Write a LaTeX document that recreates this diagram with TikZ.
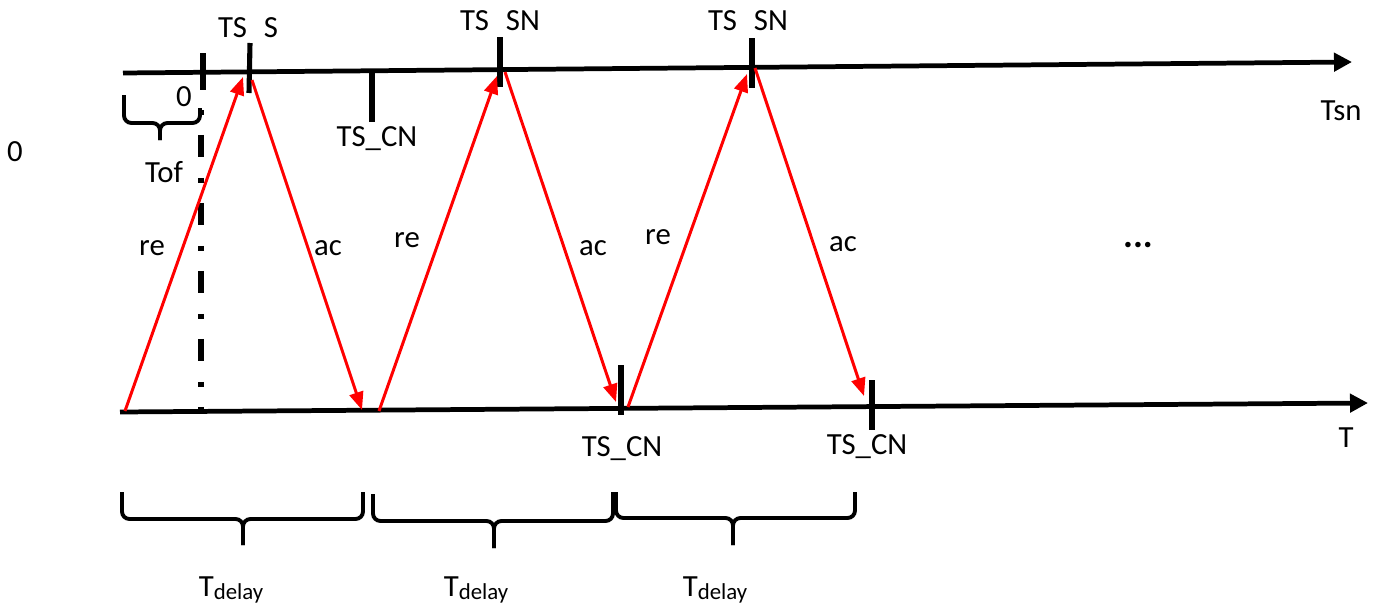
\documentclass[tikz,border=0pt]{standalone}
\usepackage{fontspec}
\setmainfont{Carlito}
\usetikzlibrary{arrows.meta}

\begin{document}
\begin{tikzpicture}[x=0.02cm,y=-0.02cm,
  axis/.style={line width=2.7pt,-{Triangle[length=0.36cm,width=0.36cm]}},
  msg/.style={red,line width=1.7pt,-{Triangle[length=0.36cm,width=0.28cm]}},
  tickmark/.style={line width=2.9pt},
  brc/.style={line width=2.2pt,rounded corners=0.15cm},
  lbl/.style={font=\fontsize{17.5}{21}\selectfont,inner sep=0pt}]
\useasboundingbox (0,0) rectangle (1375,605);
% time axes
\coordinate (top0) at (123,73);
\coordinate (top1) at (1352,62);
\coordinate (bot0) at (120,412);
\coordinate (bot1) at (1368,403);
\draw[axis] (top0)--(top1);
\draw[axis] (bot0)--(bot1);
% ticks
\draw[tickmark] (203,53)--(203,90);
\draw[tickmark] (250,43)--(249,93);
\draw[tickmark] (372,73)--(372,122);
\draw[tickmark] (500,37)--(500,87);
\draw[tickmark] (752,38)--(752,88);
\draw[tickmark] (621,365)--(621,415);
\draw[tickmark] (872,380)--(872,430);
\draw[line width=2.9pt,dash pattern=on 0.1cm off 0.4cm on 0.44cm off 0.42cm] (201,110)--(201,411);
% messages
\coordinate (r1s) at (125,411);
\coordinate (r1e) at (243,77);
\coordinate (a1s) at (252,80);
\coordinate (a1e) at (362,410);
\coordinate (r2s) at (379,411);
\coordinate (r2e) at (497,76);
\coordinate (a2s) at (505,72);
\coordinate (a2e) at (616,402);
\coordinate (r3s) at (628,407);
\coordinate (r3e) at (747,74);
\coordinate (a3s) at (755,68);
\coordinate (a3e) at (864,396);
\draw[msg] (r1s)--(r1e);
\draw[msg] (a1s)--(a1e);
\draw[msg] (r2s)--(r2e);
\draw[msg] (a2s)--(a2e);
\draw[msg] (r3s)--(r3e);
\draw[msg] (a3s)--(a3e);
% braces
\draw[brc] (124,95)--(124,123)--(160,123)--(160,140);
\draw[brc] (200,108)--(200,123)--(160,123)--(160,140);
\draw[brc] (122,492)--(122,519)--(243,519)--(243,545);
\draw[brc] (363,492)--(363,519)--(243,519)--(243,545);
\draw[brc] (373,494)--(373,521)--(494,521)--(494,548);
\draw[brc] (613,492)--(613,521)--(494,521)--(494,548);
\draw[brc] (616,492)--(616,518)--(733,518)--(733,545);
\draw[brc] (855,492)--(855,518)--(733,518)--(733,545);
% labels
\node[lbl] (tss) at (248,28) {TS\hspace{0.55em}S};
\node[lbl] (tsn1) at (500,21) {TS\hspace{0.55em}SN};
\node[lbl] (tsn2) at (748,21) {TS\hspace{0.55em}SN};
\node[lbl] (zero1) at (184,97) {0};
\node[lbl] (tof) at (164,172) {Tof};
\node[lbl] (tscn0) at (377,139) {TS\_CN};
\node[lbl] (zero0) at (15,152) {0};
\node[lbl] (tsnax) at (1341,111) {Tsn};
\node[lbl] (tax) at (1346,438) {T};
\node[lbl,font=\fontsize{21}{25}\selectfont\bfseries] (dots) at (1138,245) {...};
\node[lbl] (re1) at (152,248) {re};
\node[lbl] (ac1) at (328,248) {ac};
\node[lbl] (re2) at (407,240) {re};
\node[lbl] (ac2) at (593,248) {ac};
\node[lbl] (re3) at (658,237) {re};
\node[lbl] (ac3) at (843,244) {ac};
\node[lbl] (tscn1) at (622,449) {TS\_CN};
\node[lbl] (tscn2) at (867,447) {TS\_CN};
\node[lbl] (td1) at (231,590) {T\raisebox{-0.12em}{\fontsize{13}{15}\selectfont delay}};
\node[lbl] (td2) at (476,590) {T\raisebox{-0.12em}{\fontsize{13}{15}\selectfont delay}};
\node[lbl] (td3) at (715,590) {T\raisebox{-0.12em}{\fontsize{13}{15}\selectfont delay}};
\end{tikzpicture}
\end{document}
